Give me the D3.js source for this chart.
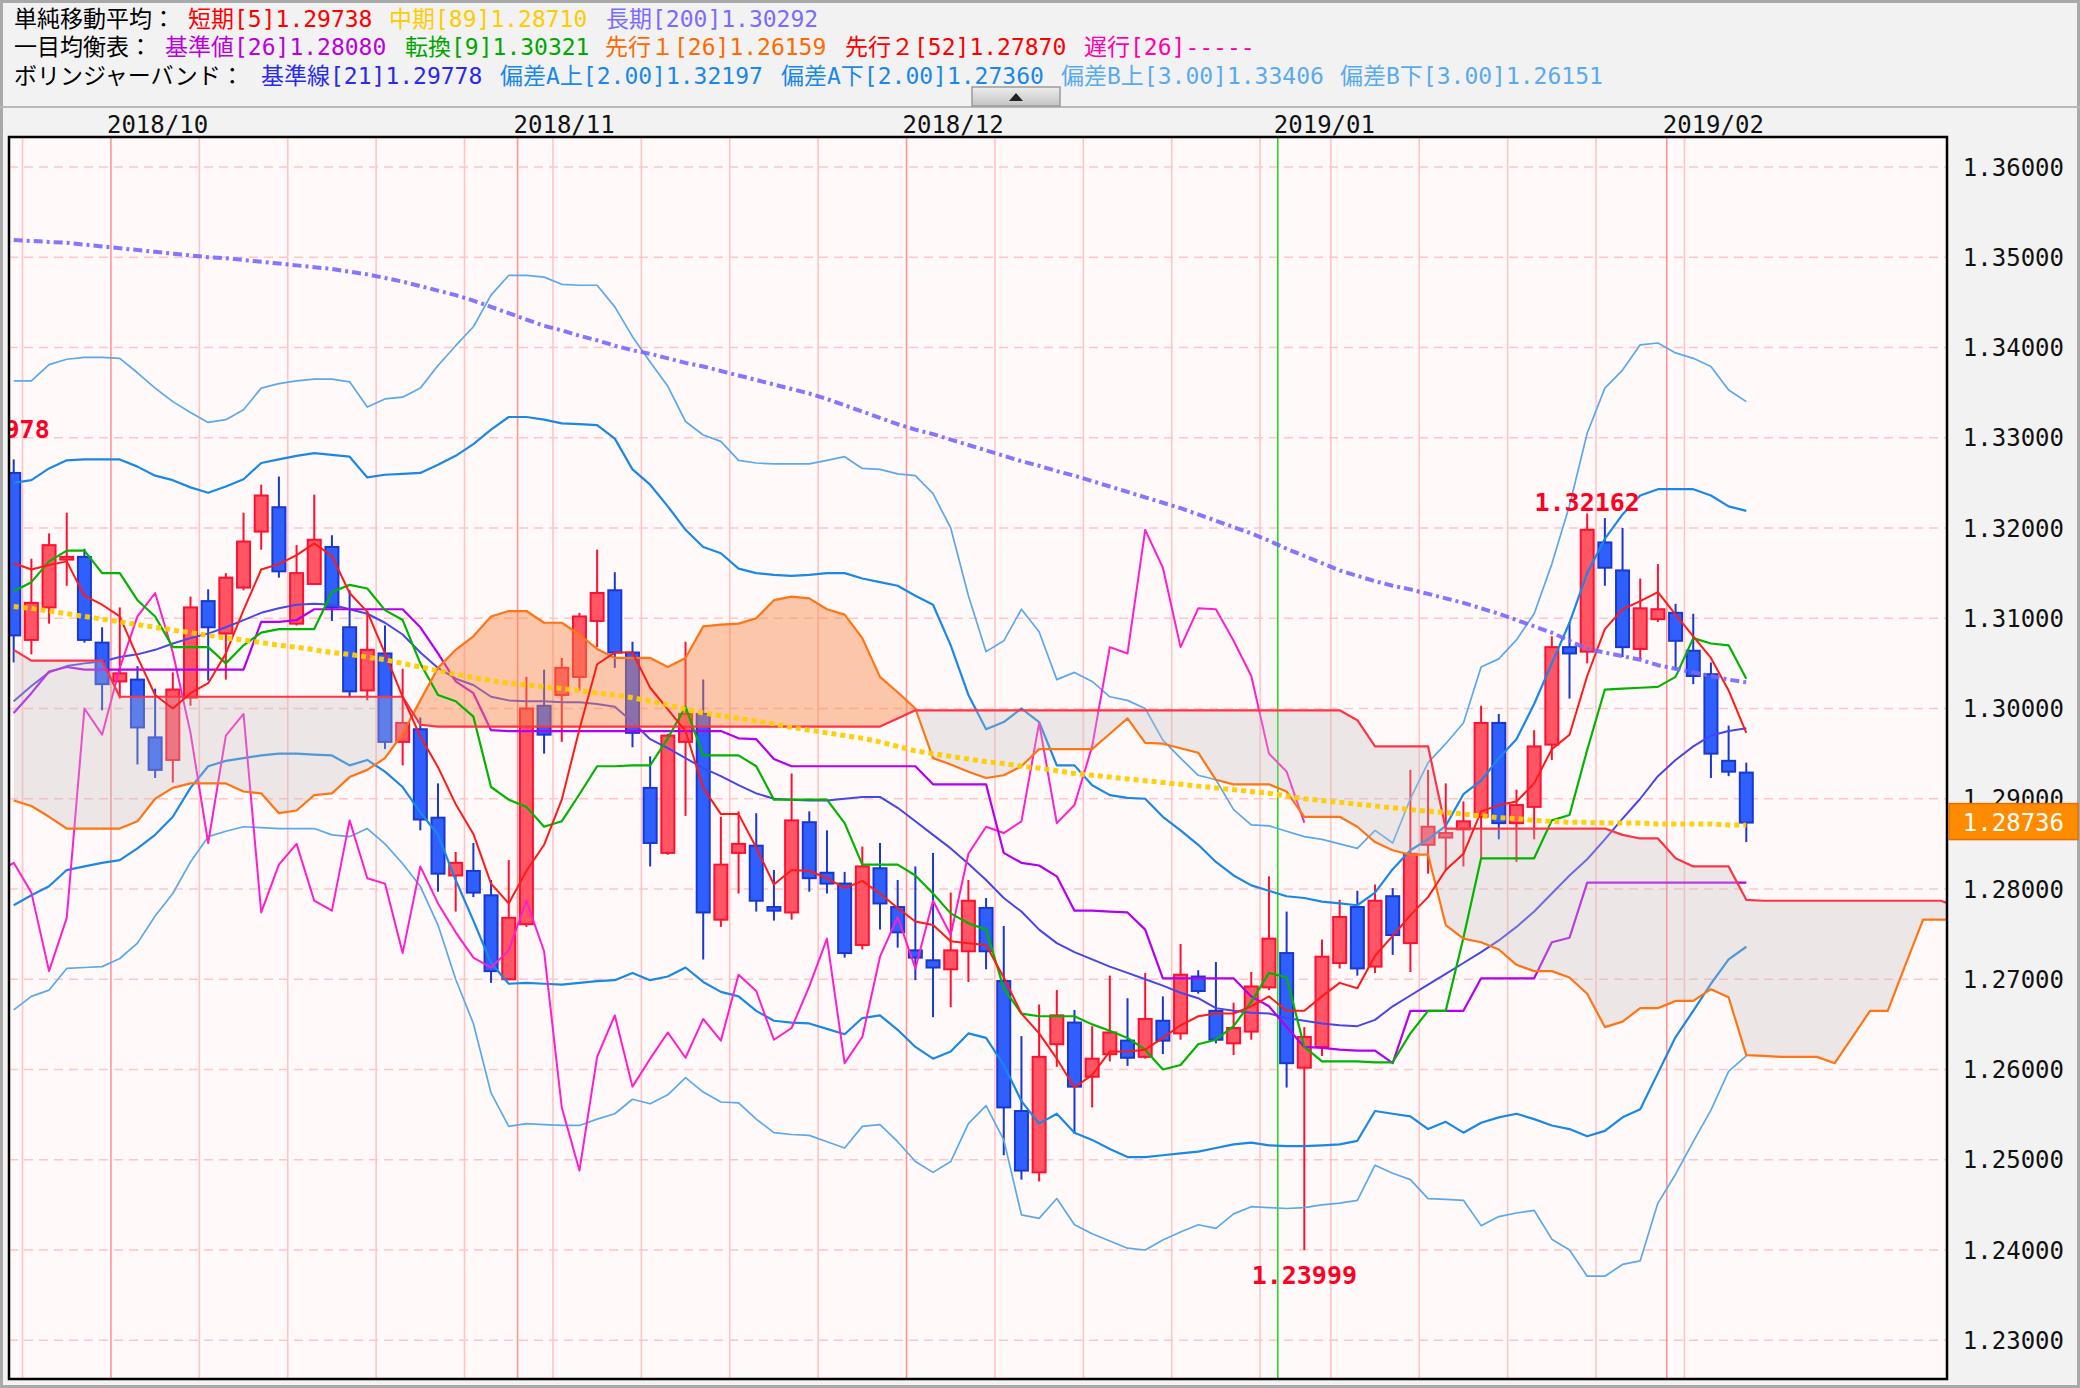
<!DOCTYPE html>
<html><head><meta charset="utf-8">
<script src="https://cdn.jsdelivr.net/npm/d3@7/dist/d3.min.js"></script>
<style>html,body{margin:0;padding:0;background:#f2f2f2;}svg{display:block;}</style>
</head><body>
<svg id="chart" width="2080" height="1388"></svg>
<script>
// ---------------- DATA (daily bars, index 0 = 2018/09/21 ... 98 = 2019/02/07) ----------------
const opens = [
1.3261,1.3076,1.3112,1.3165,1.3168,1.3073,1.3030,1.3032,1.2968,1.2943,
1.3012,1.3119,1.3083,1.3134,1.3196,1.3223,1.3094,1.3138,1.3179,1.3090,
1.3020,1.3061,1.2963,1.2977,1.2879,1.2815,1.2820,1.2793,1.2700,1.2761,
1.3003,1.3015,1.3035,1.3097,1.3131,1.3062,1.2912,1.2840,1.2963,1.2994,
1.2766,1.2840,1.2848,1.2780,1.2774,1.2874,1.2818,1.2806,1.2738,1.2823,
1.2780,1.2732,1.2721,1.2711,1.2731,1.2779,1.2698,1.2554,1.2486,1.2628,
1.2652,1.2592,1.2617,1.2632,1.2614,1.2654,1.2640,1.2703,1.2665,1.2629,
1.2642,1.2691,1.2729,1.2602,1.2625,1.2718,1.2780,1.2714,1.2792,1.2740,
1.2849,1.2857,1.2866,1.2880,1.2984,1.2873,1.2891,1.2960,1.3068,1.3063,
1.3184,1.3153,1.3066,1.3099,1.3106,1.3064,1.3038,1.2942,1.2929];
const highs = [
1.3276,1.3166,1.3194,1.3217,1.3177,1.3090,1.3112,1.3047,1.3022,1.3040,
1.3124,1.3132,1.3150,1.3217,1.3248,1.3257,1.3181,1.3237,1.3192,1.3131,
1.3108,1.3092,1.3044,1.2990,1.2917,1.2841,1.2851,1.2810,1.2832,1.3035,
1.3043,1.3056,1.3106,1.3176,1.3151,1.3074,1.2947,1.2972,1.3074,1.3032,
1.2880,1.2886,1.2884,1.2821,1.2928,1.2886,1.2865,1.2819,1.2847,1.2851,
1.2810,1.2825,1.2840,1.2796,1.2810,1.2790,1.2759,1.2637,1.2672,1.2688,
1.2666,1.2648,1.2704,1.2679,1.2707,1.2681,1.2739,1.2710,1.2719,1.2674,
1.2708,1.2814,1.2775,1.2647,1.2744,1.2788,1.2798,1.2805,1.2801,1.2932,
1.2932,1.2917,1.2897,1.3003,1.2994,1.2910,1.2976,1.3080,1.3096,1.3216,
1.3211,1.3200,1.3144,1.3160,1.3116,1.3105,1.3051,1.2981,1.2940];
const lows = [
1.3051,1.3060,1.3094,1.3136,1.3073,1.2998,1.3011,1.2938,1.2923,1.2918,
1.3003,1.3031,1.3032,1.3131,1.3176,1.3145,1.3092,1.3137,1.3097,1.3012,
1.3009,1.2955,1.2937,1.2865,1.2797,1.2775,1.2791,1.2696,1.2699,1.2758,
1.2950,1.2963,1.3020,1.3068,1.3045,1.2957,1.2825,1.2838,1.2881,1.2722,
1.2758,1.2795,1.2775,1.2765,1.2766,1.2797,1.2795,1.2724,1.2733,1.2755,
1.2735,1.2699,1.2658,1.2669,1.2697,1.2711,1.2505,1.2478,1.2476,1.2603,
1.2529,1.2558,1.2609,1.2604,1.2612,1.2617,1.2633,1.2684,1.2629,1.2616,
1.2633,1.2688,1.2580,1.2400,1.2615,1.2712,1.2704,1.2707,1.2727,1.2708,
1.2817,1.2820,1.2825,1.2834,1.2855,1.2830,1.2855,1.2943,1.3011,1.3050,
1.3136,1.3057,1.3055,1.3096,1.3043,1.3027,1.2923,1.2925,1.2852];
const closes = [
1.3081,1.3117,1.3181,1.3168,1.3076,1.3027,1.3039,1.2979,1.2932,1.3021,
1.3112,1.3090,1.3145,1.3185,1.3236,1.3152,1.3150,1.3187,1.3112,1.3019,
1.3065,1.2963,1.2984,1.2877,1.2817,1.2829,1.2796,1.2709,1.2768,1.3000,
1.2971,1.3045,1.3102,1.3128,1.3062,1.2973,1.2851,1.2970,1.2994,1.2774,
1.2827,1.2850,1.2787,1.2776,1.2876,1.2812,1.2806,1.2729,1.2825,1.2784,
1.2752,1.2724,1.2713,1.2732,1.2787,1.2731,1.2558,1.2488,1.2614,1.2660,
1.2581,1.2612,1.2641,1.2613,1.2656,1.2632,1.2705,1.2687,1.2633,1.2646,
1.2692,1.2745,1.2607,1.2636,1.2725,1.2769,1.2712,1.2787,1.2749,1.2839,
1.2869,1.2862,1.2875,1.2984,1.2873,1.2893,1.2958,1.3068,1.3061,1.3198,
1.3156,1.3068,1.3111,1.3110,1.3075,1.3036,1.2950,1.2930,1.28736];

// 単純移動平均
const sma5 = [
1.3161,1.3154,1.3159,1.3163,1.3125,1.3115,1.3102,1.3057,1.3015,1.3000,
1.3017,1.3028,1.3061,1.3109,1.3154,1.3160,1.3170,1.3183,1.3169,1.3128,
1.3107,1.3061,1.3013,1.2969,1.2935,1.2894,1.2861,1.2806,1.2784,1.2820,
1.2849,1.2899,1.2977,1.3049,1.3062,1.3062,1.3023,1.2999,1.2975,1.2912,
1.2883,1.2883,1.2846,1.2805,1.2821,1.2820,1.2812,1.2801,1.2809,1.2795,
1.2779,1.2764,1.2760,1.2742,1.2740,1.2738,1.2702,1.2662,1.2640,1.2612,
1.2580,1.2594,1.2620,1.2620,1.2622,1.2635,1.2649,1.2659,1.2662,1.2662,
1.2670,1.2681,1.2665,1.2665,1.2681,1.2696,1.2690,1.2726,1.2748,1.2771,
1.2791,1.2821,1.2839,1.2886,1.2893,1.2897,1.2917,1.2955,1.2971,1.3036,
1.3088,1.3110,1.3119,1.3129,1.3104,1.3080,1.3056,1.3020,1.2973];
const sma89 = [
1.3113,1.3111,1.3108,1.3105,1.3102,1.3099,1.3096,1.3093,1.3090,1.3087,
1.3084,1.3081,1.3078,1.3076,1.3073,1.3070,1.3068,1.3065,1.3062,1.3060,
1.3057,1.3054,1.3050,1.3046,1.3042,1.3038,1.3034,1.3031,1.3028,1.3026,
1.3024,1.3022,1.3020,1.3017,1.3015,1.3012,1.3008,1.3004,1.2999,1.2995,
1.2992,1.2989,1.2986,1.2983,1.2979,1.2976,1.2973,1.2970,1.2967,1.2963,
1.2958,1.2953,1.2950,1.2947,1.2944,1.2941,1.2939,1.2936,1.2934,1.2931,
1.2928,1.2926,1.2924,1.2922,1.2920,1.2918,1.2916,1.2914,1.2912,1.2910,
1.2908,1.2906,1.2903,1.2900,1.2898,1.2896,1.2894,1.2892,1.2890,1.2888,
1.2886,1.2885,1.2883,1.2881,1.2879,1.2878,1.2876,1.2875,1.2874,1.2874,
1.2873,1.2873,1.2873,1.2872,1.2872,1.2872,1.2872,1.2871,1.2871];
const sma200 = [
1.3519,1.3518,1.3517,1.3516,1.3514,1.3512,1.3510,1.3508,1.3506,1.3504,
1.3502,1.3500,1.3499,1.3497,1.3495,1.3493,1.3491,1.3489,1.3487,1.3484,
1.3481,1.3477,1.3473,1.3468,1.3463,1.3458,1.3452,1.3445,1.3438,1.3431,
1.3424,1.3419,1.3413,1.3408,1.3402,1.3397,1.3393,1.3388,1.3383,1.3379,
1.3374,1.3369,1.3364,1.3359,1.3354,1.3349,1.3343,1.3336,1.3329,1.3322,
1.3315,1.3309,1.3304,1.3298,1.3292,1.3286,1.3280,1.3274,1.3269,1.3263,
1.3258,1.3252,1.3246,1.3240,1.3234,1.3228,1.3222,1.3215,1.3208,1.3201,
1.3194,1.3186,1.3177,1.3169,1.3161,1.3153,1.3147,1.3141,1.3136,1.3132,
1.3127,1.3122,1.3117,1.3111,1.3105,1.3098,1.3091,1.3084,1.3075,1.3066,
1.3062,1.3058,1.3054,1.3048,1.3044,1.3040,1.3036,1.3032,1.3029];

// ボリンジャーバンド
const bbMid = [
1.3008,1.3025,1.3040,1.3047,1.3050,1.3052,1.3057,1.3060,1.3065,1.3072,
1.3078,1.3083,1.3090,1.3098,1.3106,1.3111,1.3115,1.3116,1.3115,1.3110,
1.3105,1.3095,1.3082,1.3062,1.3045,1.3033,1.3026,1.3013,1.3009,1.3008,
1.3008,1.3007,1.3007,1.3005,1.3002,1.2985,1.2966,1.2956,1.2945,1.2934,
1.2925,1.2915,1.2906,1.2900,1.2899,1.2898,1.2898,1.2900,1.2902,1.2902,
1.2890,1.2875,1.2860,1.2845,1.2828,1.2810,1.2790,1.2775,1.2755,1.2740,
1.2730,1.2722,1.2714,1.2707,1.2700,1.2693,1.2685,1.2679,1.2668,1.2665,
1.2663,1.2662,1.2657,1.2654,1.2651,1.2649,1.2648,1.2655,1.2670,1.2682,
1.2694,1.2706,1.2718,1.2730,1.2743,1.2758,1.2775,1.2795,1.2815,1.2833,
1.2855,1.2878,1.2900,1.2925,1.2943,1.2958,1.2970,1.2975,1.2978];
const bbUp2 = [
1.3250,1.3253,1.3266,1.3275,1.3276,1.3276,1.3276,1.3268,1.3258,1.3253,
1.3245,1.3239,1.3246,1.3254,1.3272,1.3276,1.3280,1.3283,1.3281,1.3279,
1.3256,1.3259,1.3260,1.3261,1.3270,1.3280,1.3293,1.3309,1.3323,1.3323,
1.3320,1.3316,1.3315,1.3314,1.3299,1.3265,1.3248,1.3224,1.3198,1.3179,
1.3172,1.3155,1.3150,1.3148,1.3147,1.3148,1.3150,1.3150,1.3144,1.3140,
1.3136,1.3125,1.3115,1.3070,1.3015,1.2977,1.2985,1.3000,1.2985,1.2937,
1.2937,1.2915,1.2904,1.2901,1.2900,1.2880,1.2865,1.2849,1.2830,1.2815,
1.2804,1.2798,1.2792,1.2790,1.2786,1.2784,1.2782,1.2796,1.2822,1.2843,
1.2855,1.2870,1.2905,1.2920,1.2945,1.2966,1.3005,1.3050,1.3095,1.3150,
1.3188,1.3215,1.3236,1.3243,1.3243,1.3243,1.3236,1.3224,1.3219];
const bbLo2 = [
1.2782,1.2793,1.2803,1.2821,1.2825,1.2829,1.2832,1.2845,1.2860,1.2880,
1.2912,1.2936,1.2942,1.2945,1.2948,1.2950,1.2950,1.2949,1.2948,1.2937,
1.2943,1.2930,1.2913,1.2885,1.2860,1.2810,1.2765,1.2718,1.2695,1.2696,
1.2695,1.2694,1.2696,1.2698,1.2699,1.2707,1.2699,1.2703,1.2713,1.2697,
1.2686,1.2681,1.2665,1.2654,1.2652,1.2651,1.2645,1.2639,1.2657,1.2660,
1.2644,1.2625,1.2612,1.2620,1.2640,1.2635,1.2605,1.2565,1.2540,1.2551,
1.2530,1.2522,1.2512,1.2503,1.2503,1.2505,1.2507,1.2509,1.2513,1.2517,
1.2519,1.2516,1.2515,1.2515,1.2516,1.2517,1.2521,1.2554,1.2551,1.2548,
1.2534,1.2542,1.2530,1.2541,1.2547,1.2551,1.2545,1.2538,1.2534,1.2526,
1.2532,1.2547,1.2556,1.2596,1.2636,1.2665,1.2695,1.2722,1.2736];
const bbUp3 = [
1.3363,1.3363,1.3381,1.3387,1.3389,1.3389,1.3388,1.3372,1.3355,1.3340,
1.3328,1.3317,1.3320,1.3331,1.3355,1.3360,1.3363,1.3365,1.3365,1.3362,
1.3334,1.3343,1.3345,1.3355,1.3380,1.3402,1.3423,1.3458,1.3480,1.3480,
1.3478,1.3470,1.3469,1.3469,1.3445,1.3412,1.3384,1.3357,1.3318,1.3303,
1.3296,1.3275,1.3272,1.3271,1.3271,1.3271,1.3275,1.3279,1.3266,1.3265,
1.3260,1.3258,1.3238,1.3200,1.3125,1.3063,1.3075,1.3110,1.3085,1.3032,
1.3040,1.3030,1.3013,1.3009,1.3000,1.2965,1.2945,1.2926,1.2921,1.2888,
1.2871,1.2870,1.2864,1.2858,1.2855,1.2850,1.2845,1.2865,1.2851,1.2900,
1.2940,1.2961,1.2984,1.3046,1.3055,1.3076,1.3105,1.3160,1.3225,1.3305,
1.3355,1.3375,1.3403,1.3405,1.3394,1.3388,1.3379,1.3353,1.3340];
const bbLo3 = [
1.2666,1.2681,1.2688,1.2712,1.2713,1.2714,1.2723,1.2740,1.2770,1.2795,
1.2830,1.2858,1.2864,1.2869,1.2868,1.2867,1.2867,1.2867,1.2860,1.2858,
1.2867,1.2850,1.2828,1.2803,1.2760,1.2700,1.2651,1.2574,1.2537,1.2540,
1.2539,1.2538,1.2538,1.2545,1.2551,1.2567,1.2562,1.2572,1.2591,1.2575,
1.2564,1.2563,1.2545,1.2530,1.2528,1.2527,1.2520,1.2513,1.2537,1.2539,
1.2520,1.2498,1.2486,1.2498,1.2540,1.2560,1.2522,1.2439,1.2435,1.2457,
1.2428,1.2418,1.2410,1.2402,1.2400,1.2411,1.2420,1.2428,1.2424,1.2440,
1.2448,1.2447,1.2446,1.2447,1.2450,1.2452,1.2455,1.2494,1.2485,1.2478,
1.2457,1.2456,1.2455,1.2427,1.2437,1.2441,1.2444,1.2412,1.2400,1.2371,
1.2371,1.2384,1.2388,1.2452,1.2484,1.2520,1.2555,1.2598,1.2615];

// 一目均衡表
const tenkan = [
1.3130,1.3140,1.3163,1.3175,1.3175,1.3150,1.3150,1.3120,1.3102,1.3068,
1.3068,1.3068,1.3050,1.3070,1.3084,1.3088,1.3088,1.3088,1.3129,1.3137,
1.3133,1.3109,1.3098,1.3050,1.3015,1.3008,1.2991,1.2913,1.2899,1.2891,
1.2869,1.2875,1.2905,1.2936,1.2936,1.2937,1.2937,1.2967,1.3002,1.2948,
1.2948,1.2948,1.2936,1.2899,1.2899,1.2899,1.2899,1.2873,1.2827,1.2827,
1.2827,1.2815,1.2795,1.2773,1.2762,1.2755,1.2690,1.2662,1.2659,1.2659,
1.2659,1.2650,1.2643,1.2635,1.2622,1.2600,1.2605,1.2628,1.2633,1.2648,
1.2675,1.2707,1.2702,1.2625,1.2609,1.2609,1.2609,1.2608,1.2608,1.2640,
1.2665,1.2665,1.2746,1.2834,1.2834,1.2834,1.2834,1.2876,1.2882,1.2954,
1.3021,1.3022,1.3023,1.3024,1.3035,1.3078,1.3072,1.3070,1.3033];
const kijun = [
1.2995,1.3017,1.3041,1.3046,1.3043,1.3043,1.3043,1.3043,1.3043,1.3043,
1.3043,1.3043,1.3043,1.3043,1.3096,1.3096,1.3098,1.3110,1.3110,1.3110,
1.3110,1.3110,1.3110,1.3090,1.3061,1.3030,1.3017,1.2976,1.2975,1.2975,
1.2975,1.2975,1.2975,1.2975,1.2975,1.2975,1.2975,1.2975,1.2975,1.2975,
1.2975,1.2967,1.2966,1.2944,1.2936,1.2936,1.2936,1.2936,1.2936,1.2936,
1.2936,1.2936,1.2916,1.2916,1.2916,1.2916,1.2840,1.2829,1.2826,1.2814,
1.2776,1.2776,1.2775,1.2774,1.2755,1.2701,1.2701,1.2701,1.2701,1.2701,
1.2681,1.2670,1.2647,1.2625,1.2624,1.2622,1.2621,1.2621,1.2607,1.2665,
1.2665,1.2665,1.2665,1.2701,1.2701,1.2701,1.2701,1.2741,1.2746,1.2807,
1.2807,1.2807,1.2807,1.2807,1.2807,1.2807,1.2807,1.2807,1.2807];
const senkouA = [ // already displaced forward, index 0..110
1.2898,1.2892,1.2880,1.2867,1.2867,1.2867,1.2867,1.2875,1.2900,1.2912,
1.2917,1.2917,1.2917,1.2908,1.2906,1.2884,1.2887,1.2904,1.2906,1.2924,
1.2932,1.2945,1.2972,1.3009,1.3045,1.3065,1.3080,1.3102,1.3108,1.3108,
1.3095,1.3095,1.3082,1.3066,1.3056,1.3056,1.3056,1.3046,1.3056,1.3091,
1.3093,1.3094,1.3100,1.3120,1.3124,1.3122,1.3110,1.3104,1.3078,1.3035,
1.3018,1.3000,1.2945,1.2938,1.2930,1.2923,1.2926,1.2936,1.2955,1.2955,
1.2955,1.2955,1.2972,1.2989,1.2962,1.2961,1.2956,1.2951,1.2921,1.2916,
1.2916,1.2916,1.2908,1.2880,1.2880,1.2880,1.2869,1.2852,1.2843,1.2838,
1.2838,1.2760,1.2745,1.2741,1.2733,1.2716,1.2709,1.2709,1.2702,1.2684,
1.2647,1.2653,1.2668,1.2668,1.2676,1.2676,1.2689,1.2680,1.2616,1.2615,
1.2614,1.2614,1.2614,1.2607,1.2636,1.2665,1.2665,1.2716,1.2766,1.2766,1.2766];
const senkouB = [ // already displaced forward, index 0..110
1.3065,1.3053,1.3053,1.3053,1.3053,1.3053,1.3013,1.3013,1.3013,1.3013,
1.3013,1.3013,1.3013,1.3013,1.3013,1.3013,1.3013,1.3013,1.3013,1.3013,
1.3013,1.3013,1.3013,1.2982,1.2980,1.2980,1.2980,1.2980,1.2980,1.2980,
1.2980,1.2980,1.2980,1.2980,1.2980,1.2980,1.2980,1.2980,1.2980,1.2980,
1.2980,1.2980,1.2980,1.2980,1.2980,1.2980,1.2980,1.2980,1.2980,1.2980,
1.2989,1.2998,1.2998,1.2998,1.2998,1.2998,1.2998,1.2998,1.2998,1.2998,
1.2998,1.2998,1.2998,1.2998,1.2998,1.2998,1.2998,1.2998,1.2998,1.2998,
1.2998,1.2998,1.2998,1.2998,1.2998,1.2998,1.2987,1.2958,1.2958,1.2958,
1.2958,1.2867,1.2867,1.2867,1.2867,1.2867,1.2867,1.2867,1.2867,1.2867,
1.2867,1.2860,1.2856,1.2856,1.2834,1.2825,1.2825,1.2825,1.2788,1.2787,
1.2787,1.2787,1.2787,1.2787,1.2787,1.2787,1.2787,1.2787,1.2787,1.2787,1.2780];
const chikouShift = 25; // 遅行スパン: closes plotted 25 bars back

// axis categories
const monthLabels = ["2018/10","2018/11","2018/12","2019/01","2019/02"];
const monthStartIdx = [6,29,51,72,94];
const weekStartIdx = [1,6,11,16,21,26,31,36,41,46,51,56,61,66,71,75,80,85,90,95];
const yTickValues = [1.23,1.24,1.25,1.26,1.27,1.28,1.29,1.30,1.31,1.32,1.33,1.34,1.35,1.36];
const yTickLabels = ["1.23000","1.24000","1.25000","1.26000","1.27000","1.28000","1.29000","1.30000","1.31000","1.32000","1.33000","1.34000","1.35000","1.36000"];
const lastPriceLabel = "1.28736";
const highMark = {idx:89, value:1.32162, label:"1.32162"};
const lowMark  = {idx:73, value:1.23999, label:"1.23999"};
const prevHighLabel = {idx:0, value:1.32978, label:"1.32978"};

const headerLines = [
  [["単純移動平均：","#000"],["短期[5]1.29738","#ff0000"],["中期[89]1.28710","#ffcc00"],["長期[200]1.30292","#7a6cff"]],
  [["一目均衡表：","#000"],["基準値[26]1.28080","#bb00dd"],["転換[9]1.30321","#00a800"],["先行１[26]1.26159","#ff6a00"],["先行２[52]1.27870","#ff0000"],["遅行[26]-----","#ff00aa"]],
  [["ボリンジャーバンド：","#000"],["基準線[21]1.29778","#2a2aee"],["偏差A上[2.00]1.32197","#1a88e8"],["偏差A下[2.00]1.27360","#1a88e8"],["偏差B上[3.00]1.33406","#5aaaee"],["偏差B下[3.00]1.26151","#5aaaee"]]
];
const headerX = [[14,188,389,606],[14,165,405,605,845,1084],[14,261,500,781,1061,1340]];

// ---------------- LAYOUT ----------------
const W = 2080, H = 1388;
const plot = {left:9, top:137, right:1947, bottom:1379};
const x = d3.scaleLinear().domain([0, 98]).range([13.7, 1746.3]);
const y = d3.scaleLinear().domain([1.23, 1.36]).range([1340.25, 167.0]);
const bw = 13;

const svg = d3.select("#chart");
const defs = svg.append("defs");
defs.append("clipPath").attr("id","plotClip").append("rect")
  .attr("x",plot.left).attr("y",plot.top).attr("width",plot.right-plot.left).attr("height",plot.bottom-plot.top);

const grad = defs.append("linearGradient").attr("id","btnGrad").attr("x1",0).attr("y1",0).attr("x2",0).attr("y2",1);
grad.append("stop").attr("offset","0%").attr("stop-color","#ededed");
grad.append("stop").attr("offset","100%").attr("stop-color","#c4c4c4");

// background
svg.append("rect").attr("width",W).attr("height",H).attr("fill","#f2f2f2");
svg.append("rect").attr("x",1.5).attr("y",1.5).attr("width",W-3).attr("height",H-3)
  .attr("fill","none").attr("stroke","#a9a9a9").attr("stroke-width",3);
svg.append("line").attr("x1",0).attr("x2",W).attr("y1",107).attr("y2",107).attr("stroke","#b8b8b8").attr("stroke-width",2);
// collapse button
svg.append("rect").attr("x",972).attr("y",87).attr("width",88).attr("height",19)
  .attr("fill","url(#btnGrad)").attr("stroke","#9a9a9a").attr("stroke-width",1.5);
svg.append("path").attr("d","M1009,101 L1023,101 L1016,93 Z").attr("fill","#222");

// header
const hdr = svg.append("g").attr("font-family","'DejaVu Sans Mono','Noto Sans CJK JP',monospace").attr("font-size",23);
const baselines = [27,55,84];
headerLines.forEach((line,li)=>{
  line.forEach((item,k)=>{
    hdr.append("text").attr("x",headerX[li][k]).attr("y",baselines[li]).attr("fill",item[1]).text(item[0]);
  });
});

// plot background
svg.append("rect").attr("x",plot.left).attr("y",plot.top).attr("width",plot.right-plot.left).attr("height",plot.bottom-plot.top).attr("fill","#fff9f9");

const g = svg.append("g").attr("clip-path","url(#plotClip)");

// horizontal grid
g.append("g").selectAll("line").data(yTickValues).join("line")
  .attr("x1",plot.left).attr("x2",plot.right).attr("y1",d=>y(d)).attr("y2",d=>y(d))
  .attr("stroke","#ffc6c6").attr("stroke-width",1.6).attr("stroke-dasharray","9,6");
// weekly lines
g.append("g").selectAll("line").data(weekStartIdx.filter(i=>!monthStartIdx.includes(i))).join("line")
  .attr("x1",d=>x(d-0.5)).attr("x2",d=>x(d-0.5)).attr("y1",plot.top).attr("y2",plot.bottom)
  .attr("stroke","#ffc4c4").attr("stroke-width",1.6);
// month lines
g.append("g").selectAll("line").data(monthStartIdx).join("line")
  .attr("x1",d=>x(d-0.5)).attr("x2",d=>x(d-0.5)).attr("y1",plot.top).attr("y2",plot.bottom)
  .attr("stroke",(d,k)=>monthLabels[k]==="2019/01" ? "#22dd22" : "#ff9494").attr("stroke-width",1.6);

// candles
const bars = d3.range(closes.length).map(i=>({i,o:opens[i],h:highs[i],l:lows[i],c:closes[i]}));
const cg = g.append("g");
const up = d=>d.c>=d.o;
cg.selectAll("line.wick").data(bars).join("line")
  .attr("x1",d=>x(d.i)).attr("x2",d=>x(d.i)).attr("y1",d=>y(d.h)).attr("y2",d=>y(d.l))
  .attr("stroke",d=>up(d)?"#ff1030":"#1838d0").attr("stroke-width",2);
cg.selectAll("rect.body").data(bars).join("rect")
  .attr("x",d=>x(d.i)-bw/2).attr("width",bw)
  .attr("y",d=>y(Math.max(d.o,d.c))).attr("height",d=>Math.max(1.5,Math.abs(y(d.o)-y(d.c))))
  .attr("fill",d=>up(d)?"#ff5565":"#2f60ff").attr("stroke",d=>up(d)?"#ff1030":"#1838d0").attr("stroke-width",2);

function drawLine(arr, color, width, dash, startIdx=0){
  const line = d3.line().defined(d=>d!=null).x((d,k)=>x(k+startIdx)).y(d=>y(d));
  const p = g.append("path").datum(arr).attr("d",line).attr("fill","none")
    .attr("stroke",color).attr("stroke-width",width).attr("stroke-linejoin","round");
  if(dash) p.attr("stroke-dasharray",dash);
  return p;
}

// Bollinger
drawLine(bbUp3,"#5aa9ee",1.7);
drawLine(bbLo3,"#5aa9ee",1.7);
drawLine(bbUp2,"#1a88e6",2.2);
drawLine(bbLo2,"#1a88e6",2.2);
drawLine(bbMid,"#4646ea",2);
// chikou
const chikou = closes.slice(chikouShift-1);
drawLine(chikou,"#ff1ecb",2,null,-1);
// kijun
drawLine(kijun,"#b400f0",2.2);

// cloud
const idxs = d3.range(senkouA.length);
const band = d3.area().x(i=>x(i)).y0(i=>y(senkouB[i])).y1(i=>y(senkouA[i]));
const aboveB = d3.area().x(i=>x(i)).y0(plot.top-10).y1(i=>y(senkouB[i]));
const belowB = d3.area().x(i=>x(i)).y0(i=>y(senkouB[i])).y1(plot.bottom+10);
defs.append("clipPath").attr("id","clipAbove").append("path").attr("d",aboveB(idxs));
defs.append("clipPath").attr("id","clipBelow").append("path").attr("d",belowB(idxs));
g.append("g").attr("clip-path","url(#clipAbove)").append("path").attr("d",band(idxs))
  .attr("fill","#f7884a").attr("fill-opacity",0.45);
g.append("g").attr("clip-path","url(#clipBelow)").append("path").attr("d",band(idxs))
  .attr("fill","#c4bebe").attr("fill-opacity",0.32);

// tenkan, senkou
drawLine(tenkan,"#00b400",2.2);
drawLine(senkouA,"#ff7514",2.2);
drawLine(senkouB,"#ff3344",2.2);
// SMAs
drawLine(sma5,"#ff1a1a",2);
drawLine(sma89,"#ffcc00",5,"5,4").attr("stroke-opacity",0.95);
drawLine(sma200,"#7866ff",4,"9,4,3,4").attr("stroke-opacity",0.9);

// high / low labels
const lab = g.append("g").attr("font-family","'DejaVu Sans Mono',monospace").attr("font-weight","bold").attr("font-size",25).attr("fill","#ff0022");
lab.append("text").attr("x",x(highMark.idx)).attr("y",y(highMark.value)-2).attr("text-anchor","middle").text(highMark.label);
lab.append("text").attr("x",x(lowMark.idx)).attr("y",y(lowMark.value)+34).attr("text-anchor","middle").text(lowMark.label);
lab.append("text").attr("x",x(prevHighLabel.idx)+36).attr("y",y(prevHighLabel.value)-2).attr("text-anchor","end").text(prevHighLabel.label);

// plot border
svg.append("rect").attr("x",plot.left).attr("y",plot.top).attr("width",plot.right-plot.left).attr("height",plot.bottom-plot.top)
  .attr("fill","none").attr("stroke","#000").attr("stroke-width",2.5);

// y tick labels
svg.append("g").attr("font-family","'DejaVu Sans Mono',monospace").attr("font-size",24).attr("fill","#111")
  .selectAll("text").data(yTickValues).join("text")
  .attr("x",2064).attr("y",d=>y(d)).attr("dy","0.36em").attr("text-anchor","end")
  .text((d,k)=>yTickLabels[k]);

// last price box
const lp = closes[closes.length-1];
svg.append("rect").attr("x",1949).attr("y",y(lp)-19).attr("width",129).attr("height",36)
  .attr("fill","#ff8c00").attr("stroke","#e07000").attr("stroke-width",1.5);
svg.append("text").attr("x",2064).attr("y",y(lp)).attr("dy","0.36em").attr("text-anchor","end")
  .attr("font-family","'DejaVu Sans Mono',monospace").attr("font-size",24).attr("fill","#fff").text(lastPriceLabel);

// month labels
svg.append("g").attr("font-family","'DejaVu Sans Mono',monospace").attr("font-size",24).attr("fill","#111")
  .selectAll("text").data(monthStartIdx).join("text")
  .attr("x",d=>x(d-0.5)-4).attr("y",133).text((d,k)=>monthLabels[k]);
</script>
</body></html>
